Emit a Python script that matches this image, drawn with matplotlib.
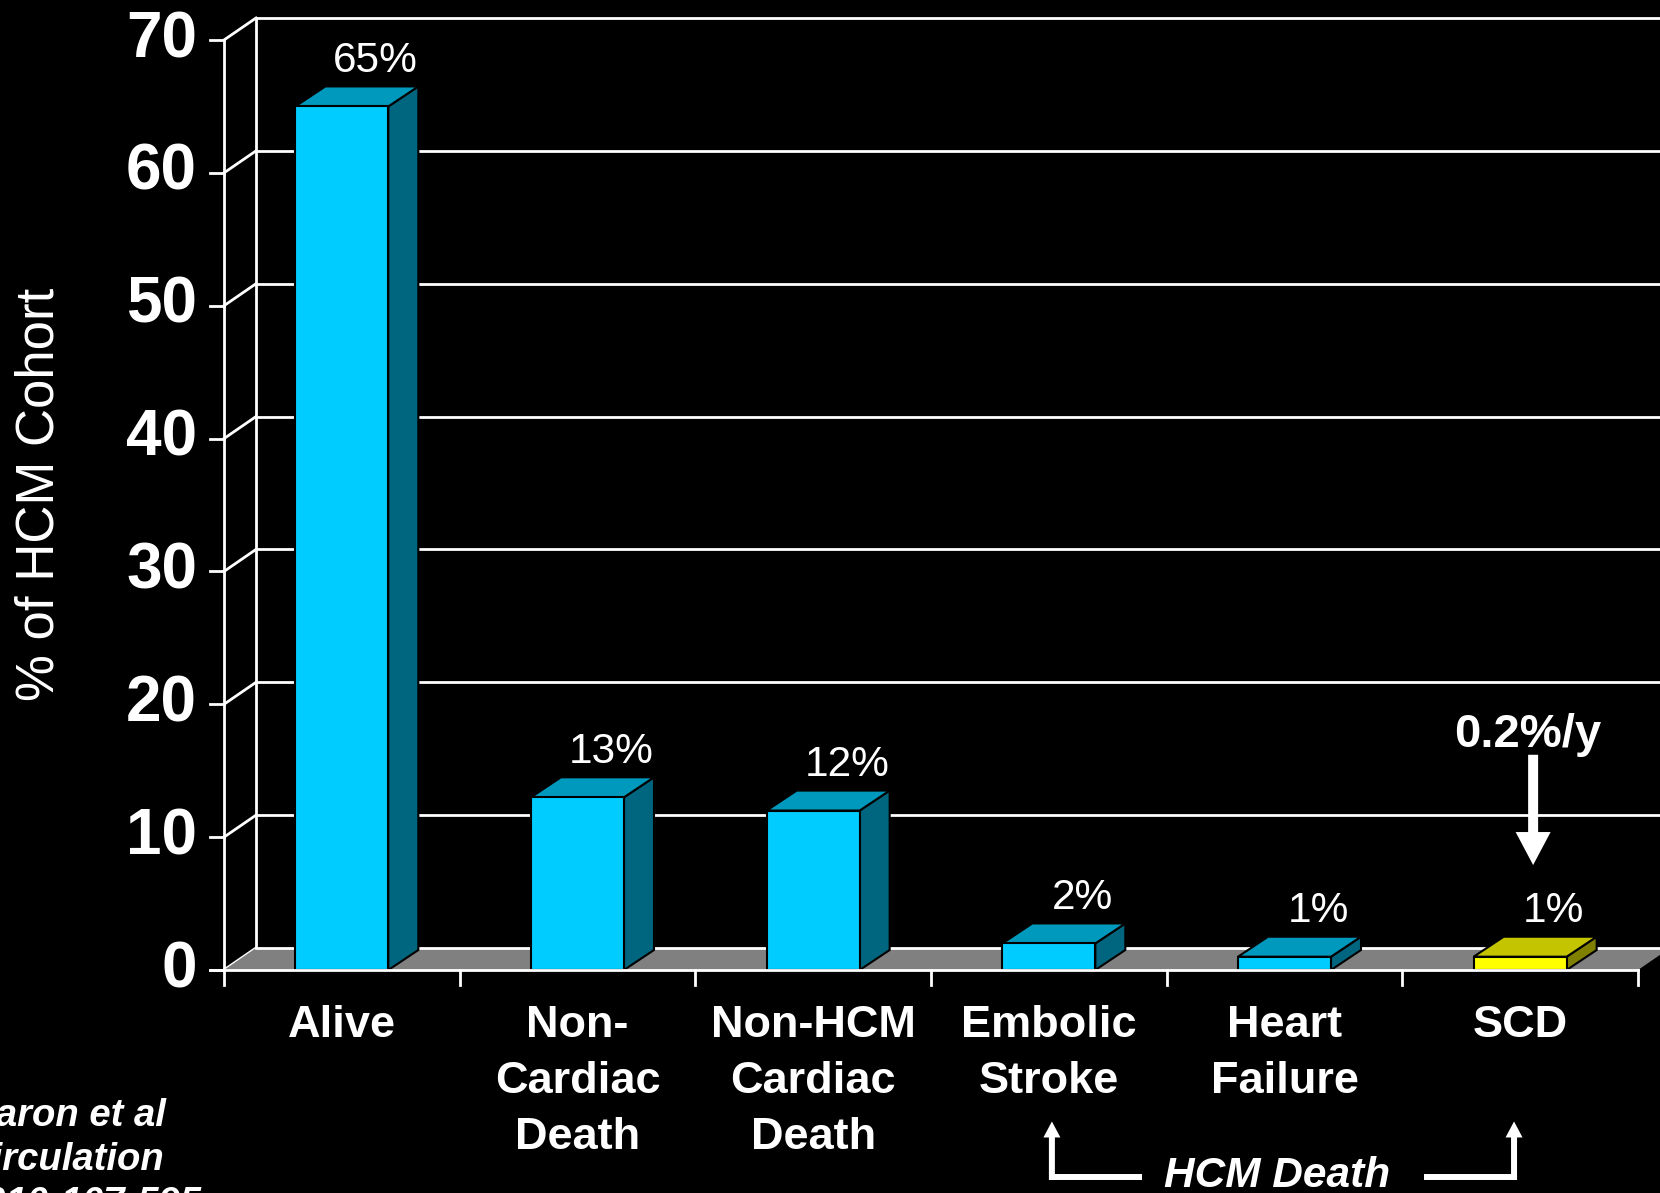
import matplotlib
matplotlib.use("Agg")
import matplotlib.pyplot as plt
from matplotlib.patches import Polygon, Rectangle, FancyArrow
from matplotlib.lines import Line2D

# ---- data -------------------------------------------------------------
categories = ["Alive", "Non-\nCardiac\nDeath", "Non-HCM\nCardiac\nDeath",
              "Embolic\nStroke", "Heart\nFailure", "SCD"]
values = [65, 13, 12, 2, 1, 1]
value_labels = ["65%", "13%", "12%", "2%", "1%", "1%"]
y_ticks = [0, 10, 20, 30, 40, 50, 60, 70]
highlight = "SCD"

# ---- styling ----------------------------------------------------------
FONT = "Liberation Sans"
WHITE = "white"
FRONT, TOP, SIDE = "#00CCFF", "#0099BE", "#00667F"
HFRONT, HTOP, HSIDE = "#FFFF00", "#C4C400", "#808000"
FLOOR = "#808080"

W_PX, H_PX = 1660, 1193
fig = plt.figure(figsize=(W_PX / 100, H_PX / 100), dpi=100, facecolor="black")
ax = fig.add_axes([224 / W_PX, (H_PX - 970) / H_PX,
                   (1638 - 224) / W_PX, (970 - 40) / H_PX])
ax.set_facecolor("black")
ax.set_xlim(-0.5, len(categories) - 0.5)
ax.set_ylim(y_ticks[0], y_ticks[-1])
ax.axis("off")

# pixel scale helpers (data units per pixel)
px_x = (len(categories)) / (1638 - 224)
px_y = (y_ticks[-1] - y_ticks[0]) / (970 - 40)

WDX, WDY = 32 * px_x, 22 * px_y      # depth of wall / floor
BDX, BDY = 30 * px_x, 20 * px_y      # depth of bars
BW = 93 * px_x                       # bar width
LW = 2.0
x0, x1 = -0.5, len(categories) - 0.5

# back wall gridlines and left wall edge
for t in y_ticks[1:]:
    ax.add_line(Line2D([x0 + WDX, x1 + WDX + 1], [t + WDY, t + WDY],
                       color=WHITE, lw=LW, zorder=1, clip_on=False))
ax.add_line(Line2D([x0 + WDX, x0 + WDX], [WDY, y_ticks[-1] + WDY],
                   color=WHITE, lw=LW, zorder=1, clip_on=False))
# left diagonals from front ticks to the wall
for t in y_ticks:
    ax.add_line(Line2D([x0, x0 + WDX], [t, t + WDY],
                       color=WHITE, lw=LW, zorder=1.5, clip_on=False))

# floor
ax.add_patch(Polygon([[x0, 0], [x1, 0], [x1 + WDX, WDY], [x0 + WDX, WDY]],
                     closed=True, facecolor=FLOOR, edgecolor="none",
                     zorder=2, clip_on=False))
ax.add_line(Line2D([x0 + WDX, x1 + WDX + 1], [WDY, WDY],
                   color=WHITE, lw=LW, zorder=2.2, clip_on=False))

# bars
for i, (cat, v, lab) in enumerate(zip(categories, values, value_labels)):
    if cat == highlight:
        cf, ct, cs = HFRONT, HTOP, HSIDE
    else:
        cf, ct, cs = FRONT, TOP, SIDE
    l, r = i - BW / 2, i + BW / 2
    ek = dict(edgecolor="black", lw=1.5, zorder=3, clip_on=False,
              joinstyle="miter")
    ax.add_patch(Polygon([[r, 0], [r + BDX, BDY], [r + BDX, v + BDY], [r, v]],
                         closed=True, facecolor=cs, **ek))
    ax.add_patch(Polygon([[l, v], [r, v], [r + BDX, v + BDY], [l + BDX, v + BDY]],
                         closed=True, facecolor=ct, **ek))
    ax.add_patch(Rectangle((l, 0), BW, v, facecolor=cf, **ek))
    ax.text(i + BDX + 0.015, v + BDY + 1.1, lab, ha="center", va="baseline",
            color=WHITE, fontsize=30.5, family=FONT, zorder=6)
    ax.text(i, -2.65, cat, ha="center", va="top", color=WHITE,
            fontsize=32.5, fontweight="bold", family=FONT,
            linespacing=1.46, zorder=6)

# front axes
ax.add_line(Line2D([x0 - 14 * px_x, x1], [0, 0], color=WHITE, lw=LW,
                   zorder=5, clip_on=False))
ax.add_line(Line2D([x0, x0], [0, y_ticks[-1]], color=WHITE, lw=LW,
                   zorder=5, clip_on=False))
for t in y_ticks:
    ax.add_line(Line2D([x0 - 14 * px_x, x0], [t, t], color=WHITE, lw=LW,
                       zorder=5, clip_on=False))
    ax.text(x0 - 27 * px_x, t, str(t), ha="right", va="center",
            color=WHITE, fontsize=46, fontweight="bold", family=FONT)
for k in range(len(categories) + 1):
    xb = x0 + k
    ax.add_line(Line2D([xb, xb], [0, -15 * px_y], color=WHITE, lw=LW,
                       zorder=5, clip_on=False))

# y axis title
fig.text(40 / W_PX, (H_PX - 494) / H_PX, "% of HCM Cohort", rotation=90,
         ha="center", va="center", color=WHITE, fontsize=38, family=FONT)

# annual SCD rate callout
scd = categories.index(highlight)
ax.text(scd + 0.03, 16.8, "0.2%/y", ha="center", va="baseline", color=WHITE,
        fontsize=34, fontweight="bold", family=FONT, zorder=6)
ax.add_patch(FancyArrow(scd + 0.055, 16.2, 0, -(16.2 - 7.9),
                        width=10 * px_x, head_width=35 * px_x,
                        head_length=33 * px_y, length_includes_head=True,
                        color=WHITE, lw=0, zorder=6, clip_on=False))

# HCM death bracket
yb = -15.6
for xa in (3.013, 4.974):
    ax.add_patch(FancyArrow(xa, yb - 0.2, 0, (yb - 0.2) * -1 - 11.4,
                            width=6 * px_x, head_width=17 * px_x,
                            head_length=16 * px_y, length_includes_head=True,
                            color=WHITE, lw=0, zorder=6, clip_on=False))
ax.add_line(Line2D([2.999, 3.395], [yb, yb], color=WHITE, lw=4.3,
                   solid_capstyle="butt", clip_on=False))
ax.add_line(Line2D([4.592, 4.988], [yb, yb], color=WHITE, lw=4.3,
                   solid_capstyle="butt", clip_on=False))
ax.text(3.968, -16.33, "HCM Death", ha="center", va="baseline", color=WHITE,
        fontsize=30.5, fontweight="bold", fontstyle="italic", family=FONT)

# citation
cite = ["Maron et al", "Circulation", "2010;107:595"]
for j, line in enumerate(cite):
    fig.text(-36 / W_PX, (H_PX - (1126 + 44 * j)) / H_PX, line,
             ha="left", va="baseline", color=WHITE, fontsize=27.5,
             fontweight="bold", fontstyle="italic", family=FONT)

fig.savefig("out.png", dpi=100, facecolor="black")
